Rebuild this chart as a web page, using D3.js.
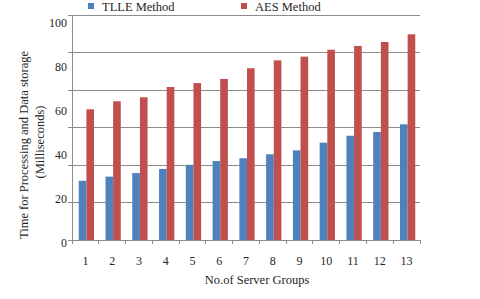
<!DOCTYPE html>
<html lang="en">
<head>
<meta charset="utf-8">
<title>Server groups</title>
<script src="https://d3js.org/d3.v7.min.js"></script>
<style>
body{margin:0;background:#fff;}
text{font-family:"Liberation Serif","Times New Roman",serif;fill:#262626;}
</style>
</head>
<body>
<div id="chart"></div>
<script>
var w = 480, h = 299;
var groups = ["1","2","3","4","5","6","7","8","9","10","11","12","13"];
var seriesNames = ["TLLE Method","AES Method"];
var colors = ["#4f81bd","#c0504d"];
// values in plot units (gridlines every 20, 0..120)
var tlle = [31.6,33.8,35.7,37.9,40.1,42.1,43.6,45.7,47.8,51.9,55.6,57.6,61.7];
var aes = [69.7,74.0,76.1,81.6,83.7,85.9,91.6,95.8,97.8,101.5,103.5,105.6,109.7];
var gridValues = [0,20,40,60,80,100,120];
var tickLabels = [0,20,40,60,80,100];

var plotLeft = 72, plotRight = 420, plotTop = 15, plotBottom = 240;

var svg = d3.select("#chart").append("svg")
  .attr("width", w).attr("height", h);

var x0 = d3.scaleBand().domain(groups).range([plotLeft, plotRight]).padding(0);
var x1 = d3.scaleBand().domain(seriesNames).range([0, x0.bandwidth()]).paddingOuter(0.75).paddingInner(0);
var y = d3.scaleLinear().domain([0,120]).range([plotBottom, plotTop]);
// the printed labels do not sit on the gridlines in the source
var yLab = d3.scaleLinear().domain([0,100]).range([243, 23]);

// gridlines
svg.append("g").selectAll("line").data(gridValues).enter().append("line")
  .attr("x1", plotLeft - 4).attr("x2", plotRight)
  .attr("y1", function(d){return y(d);}).attr("y2", function(d){return y(d);})
  .attr("stroke", "#8c8c8c").attr("stroke-width", 1)
  .attr("shape-rendering","crispEdges");

// bars
var data = groups.map(function(g,i){return {g:g, vals:[tlle[i], aes[i]]};});
var grp = svg.append("g").selectAll("g").data(data).enter().append("g")
  .attr("transform", function(d){return "translate(" + (x0(d.g) + 1) + ",0)";});
grp.selectAll("rect").data(function(d){
    return d.vals.map(function(v,j){return {s:seriesNames[j], v:v, c:colors[j]};});
  }).enter().append("rect")
  .attr("x", function(d){return x1(d.s);})
  .attr("width", x1.bandwidth())
  .attr("y", function(d){return y(d.v);})
  .attr("height", function(d){return plotBottom - y(d.v);})
  .attr("fill", function(d){return d.c;});

// y axis line
svg.append("line").attr("x1", plotLeft).attr("x2", plotLeft).attr("y1", plotTop).attr("y2", plotBottom)
  .attr("stroke", "#8c8c8c").attr("shape-rendering","crispEdges");

// x axis
var xAxis = svg.append("g").attr("transform", "translate(0," + plotBottom + ")");
xAxis.append("line").attr("x1", plotLeft).attr("x2", plotRight)
  .attr("stroke", "#8c8c8c").attr("shape-rendering","crispEdges");
xAxis.selectAll(".tk").data(d3.range(groups.length + 1)).enter().append("line")
  .attr("x1", function(i){return plotLeft + i * x0.step();})
  .attr("x2", function(i){return plotLeft + i * x0.step();})
  .attr("y1", 0).attr("y2", 4)
  .attr("stroke", "#8c8c8c").attr("shape-rendering","crispEdges");
xAxis.selectAll("text").data(groups).enter().append("text")
  .attr("x", function(d){return x0(d) + x0.bandwidth()/2;})
  .attr("y", 25)
  .attr("text-anchor","middle")
  .style("font-size","12px")
  .text(function(d){return d;});

// y tick labels
var yAxis = svg.append("g").attr("transform", "translate(" + plotLeft + ",0)")
  .call(d3.axisLeft(yLab).tickValues(tickLabels).tickSize(0).tickPadding(5));
yAxis.select(".domain").remove();
yAxis.selectAll("text").style("font-size","12px").style("font-family","Liberation Serif, serif").attr("fill","#262626");

// axis titles
svg.append("text").attr("x", 257).attr("y", 284).attr("text-anchor","middle")
  .style("font-size","12.5px").text("No.of Server Groups");
svg.append("text").attr("transform","translate(28,145) rotate(-90)")
  .attr("text-anchor","middle").style("font-size","12.5px")
  .text("Time for Processing and Data storage");
svg.append("text").attr("transform","translate(44,142) rotate(-90)")
  .attr("text-anchor","middle").style("font-size","12.5px")
  .text("(Milliseconds)");

// legend
var legX = [88, 241];
var leg = svg.append("g").selectAll("g").data(seriesNames).enter().append("g")
  .attr("transform", function(d,i){return "translate(" + legX[i] + ",3)";});
leg.append("rect").attr("width",6).attr("height",6)
  .attr("fill", function(d,i){return colors[i];});
leg.append("text").attr("x",14).attr("y",8).style("font-size","12.5px")
  .text(function(d){return d;});
</script>
</body>
</html>
